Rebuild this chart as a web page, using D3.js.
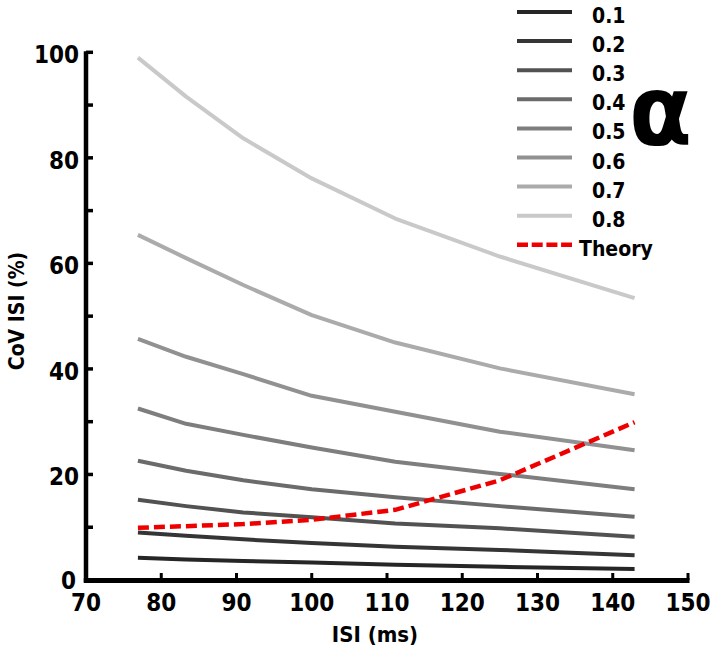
<!DOCTYPE html>
<html><head><meta charset="utf-8">
<script src="https://cdn.jsdelivr.net/npm/d3@7"></script>
<style>
html,body{margin:0;padding:0;background:#fff;}
svg{display:block;}
text{font-family:"DejaVu Sans Condensed","DejaVu Sans",sans-serif;font-weight:bold;fill:#000;}
</style></head>
<body>
<script>
// ---- data ----
const isi = [76.9, 83.3, 90.9, 100, 111.1, 125, 142.9];
const alphaLabels = ["0.1","0.2","0.3","0.4","0.5","0.6","0.7","0.8"];
const cov01 = [4.2, 3.9, 3.6, 3.3, 2.9, 2.5, 2.1];
const cov02 = [9.0, 8.4, 7.7, 7.0, 6.3, 5.7, 4.7];
const cov03 = [15.2, 14.0, 12.8, 11.9, 10.7, 9.8, 8.2];
const cov04 = [22.6, 20.7, 18.9, 17.2, 15.7, 14.0, 12.0];
const cov05 = [32.5, 29.6, 27.5, 25.1, 22.4, 20.1, 17.2];
const cov06 = [45.7, 42.3, 39.0, 34.9, 31.9, 28.1, 24.6];
const cov07 = [65.4, 61.0, 55.9, 50.2, 45.0, 40.1, 35.2];
const cov08 = [99.0, 91.6, 83.7, 76.1, 68.5, 61.3, 53.4];
const theory = [9.9, 10.2, 10.6, 11.4, 13.3, 18.9, 29.9];
const xTicks = [70, 80, 90, 100, 110, 120, 130, 140, 150];
const yTicks = [0, 20, 40, 60, 80, 100];
const yMinor = [10, 30, 50, 70, 90];

const series = [cov01, cov02, cov03, cov04, cov05, cov06, cov07, cov08];
const grays = ["#262626","#353535","#525252","#6b6b6b","#7e7e7e","#919191","#ababab","#c9c9c9"];

const W = 717, H = 655;
const svg = d3.select("body").append("svg").attr("width", W).attr("height", H);

const x = d3.scaleLinear().domain([70, 150]).range([86, 688]);
const y = d3.scaleLinear().domain([0, 100]).range([580, 52.3]);

const line = d3.line().x((d, i) => x(isi[i])).y(d => y(d));

// series lines
series.forEach((s, k) => {
  svg.append("path").datum(s).attr("d", line)
    .attr("fill", "none").attr("stroke", grays[k]).attr("stroke-width", 4)
    .attr("stroke-linejoin", "round");
});
svg.append("path").datum(theory).attr("d", line)
  .attr("fill", "none").attr("stroke", "#ee0000").attr("stroke-width", 4.5)
  .attr("stroke-dasharray", "11,5");

// axes
const ax = svg.append("g");
ax.append("line").attr("x1", x(70)).attr("x2", x(70)).attr("y1", y(100) - 1).attr("y2", y(0) + 2.5)
  .attr("stroke", "#000").attr("stroke-width", 4.5);
ax.append("line").attr("x1", x(70) - 2.2).attr("x2", x(150) + 1.5).attr("y1", y(0) + 0.5).attr("y2", y(0) + 0.5)
  .attr("stroke", "#000").attr("stroke-width", 5);

// x ticks (inward)
xTicks.forEach(t => {
  ax.append("line").attr("x1", x(t)).attr("x2", x(t)).attr("y1", y(0)).attr("y2", y(0) - 7)
    .attr("stroke", "#000").attr("stroke-width", 3);
  ax.append("text").attr("x", x(t)).attr("y", 611).attr("text-anchor", "middle")
    .attr("font-size", 24).text(t);
});
// y ticks (inward)
yTicks.concat(yMinor).forEach(t => {
  ax.append("line").attr("x1", x(70)).attr("x2", x(70) + 7).attr("y1", y(t)).attr("y2", y(t))
    .attr("stroke", "#000").attr("stroke-width", 3.5);
});
yTicks.forEach(t => {
  ax.append("text").attr("x", t === 0 ? 76 : 79).attr("y", y(t) + (t === 0 ? 9 : 11)).attr("text-anchor", "end")
    .attr("font-size", 24).text(t);
});

// axis titles
svg.append("text").attr("x", 375).attr("y", 642).attr("text-anchor", "middle")
  .attr("font-size", 22).text("ISI (ms)");
svg.append("text").attr("transform", "translate(24,311) rotate(-90)").attr("text-anchor", "middle")
  .attr("font-size", 21).text("CoV ISI (%)");

// legend
const lg = svg.append("g");
const rowY = i => 12 + i * 29.1;
alphaLabels.forEach((lab, i) => {
  lg.append("line").attr("x1", 517).attr("x2", 572).attr("y1", rowY(i)).attr("y2", rowY(i))
    .attr("stroke", grays[i]).attr("stroke-width", 4);
  lg.append("text").attr("x", 592).attr("y", rowY(i) + 11).attr("font-size", 21).text(lab);
});
lg.append("line").attr("x1", 517).attr("x2", 572).attr("y1", rowY(8)).attr("y2", rowY(8))
  .attr("stroke", "#ee0000").attr("stroke-width", 4.5).attr("stroke-dasharray", "11,3.7");
lg.append("text").attr("x", 579).attr("y", rowY(8) + 11).attr("font-size", 21).text("Theory");

svg.append("text").attr("transform", "translate(629,145) scale(1.04,1)")
  .attr("font-size", 98).text("α");
</script>
</body></html>
